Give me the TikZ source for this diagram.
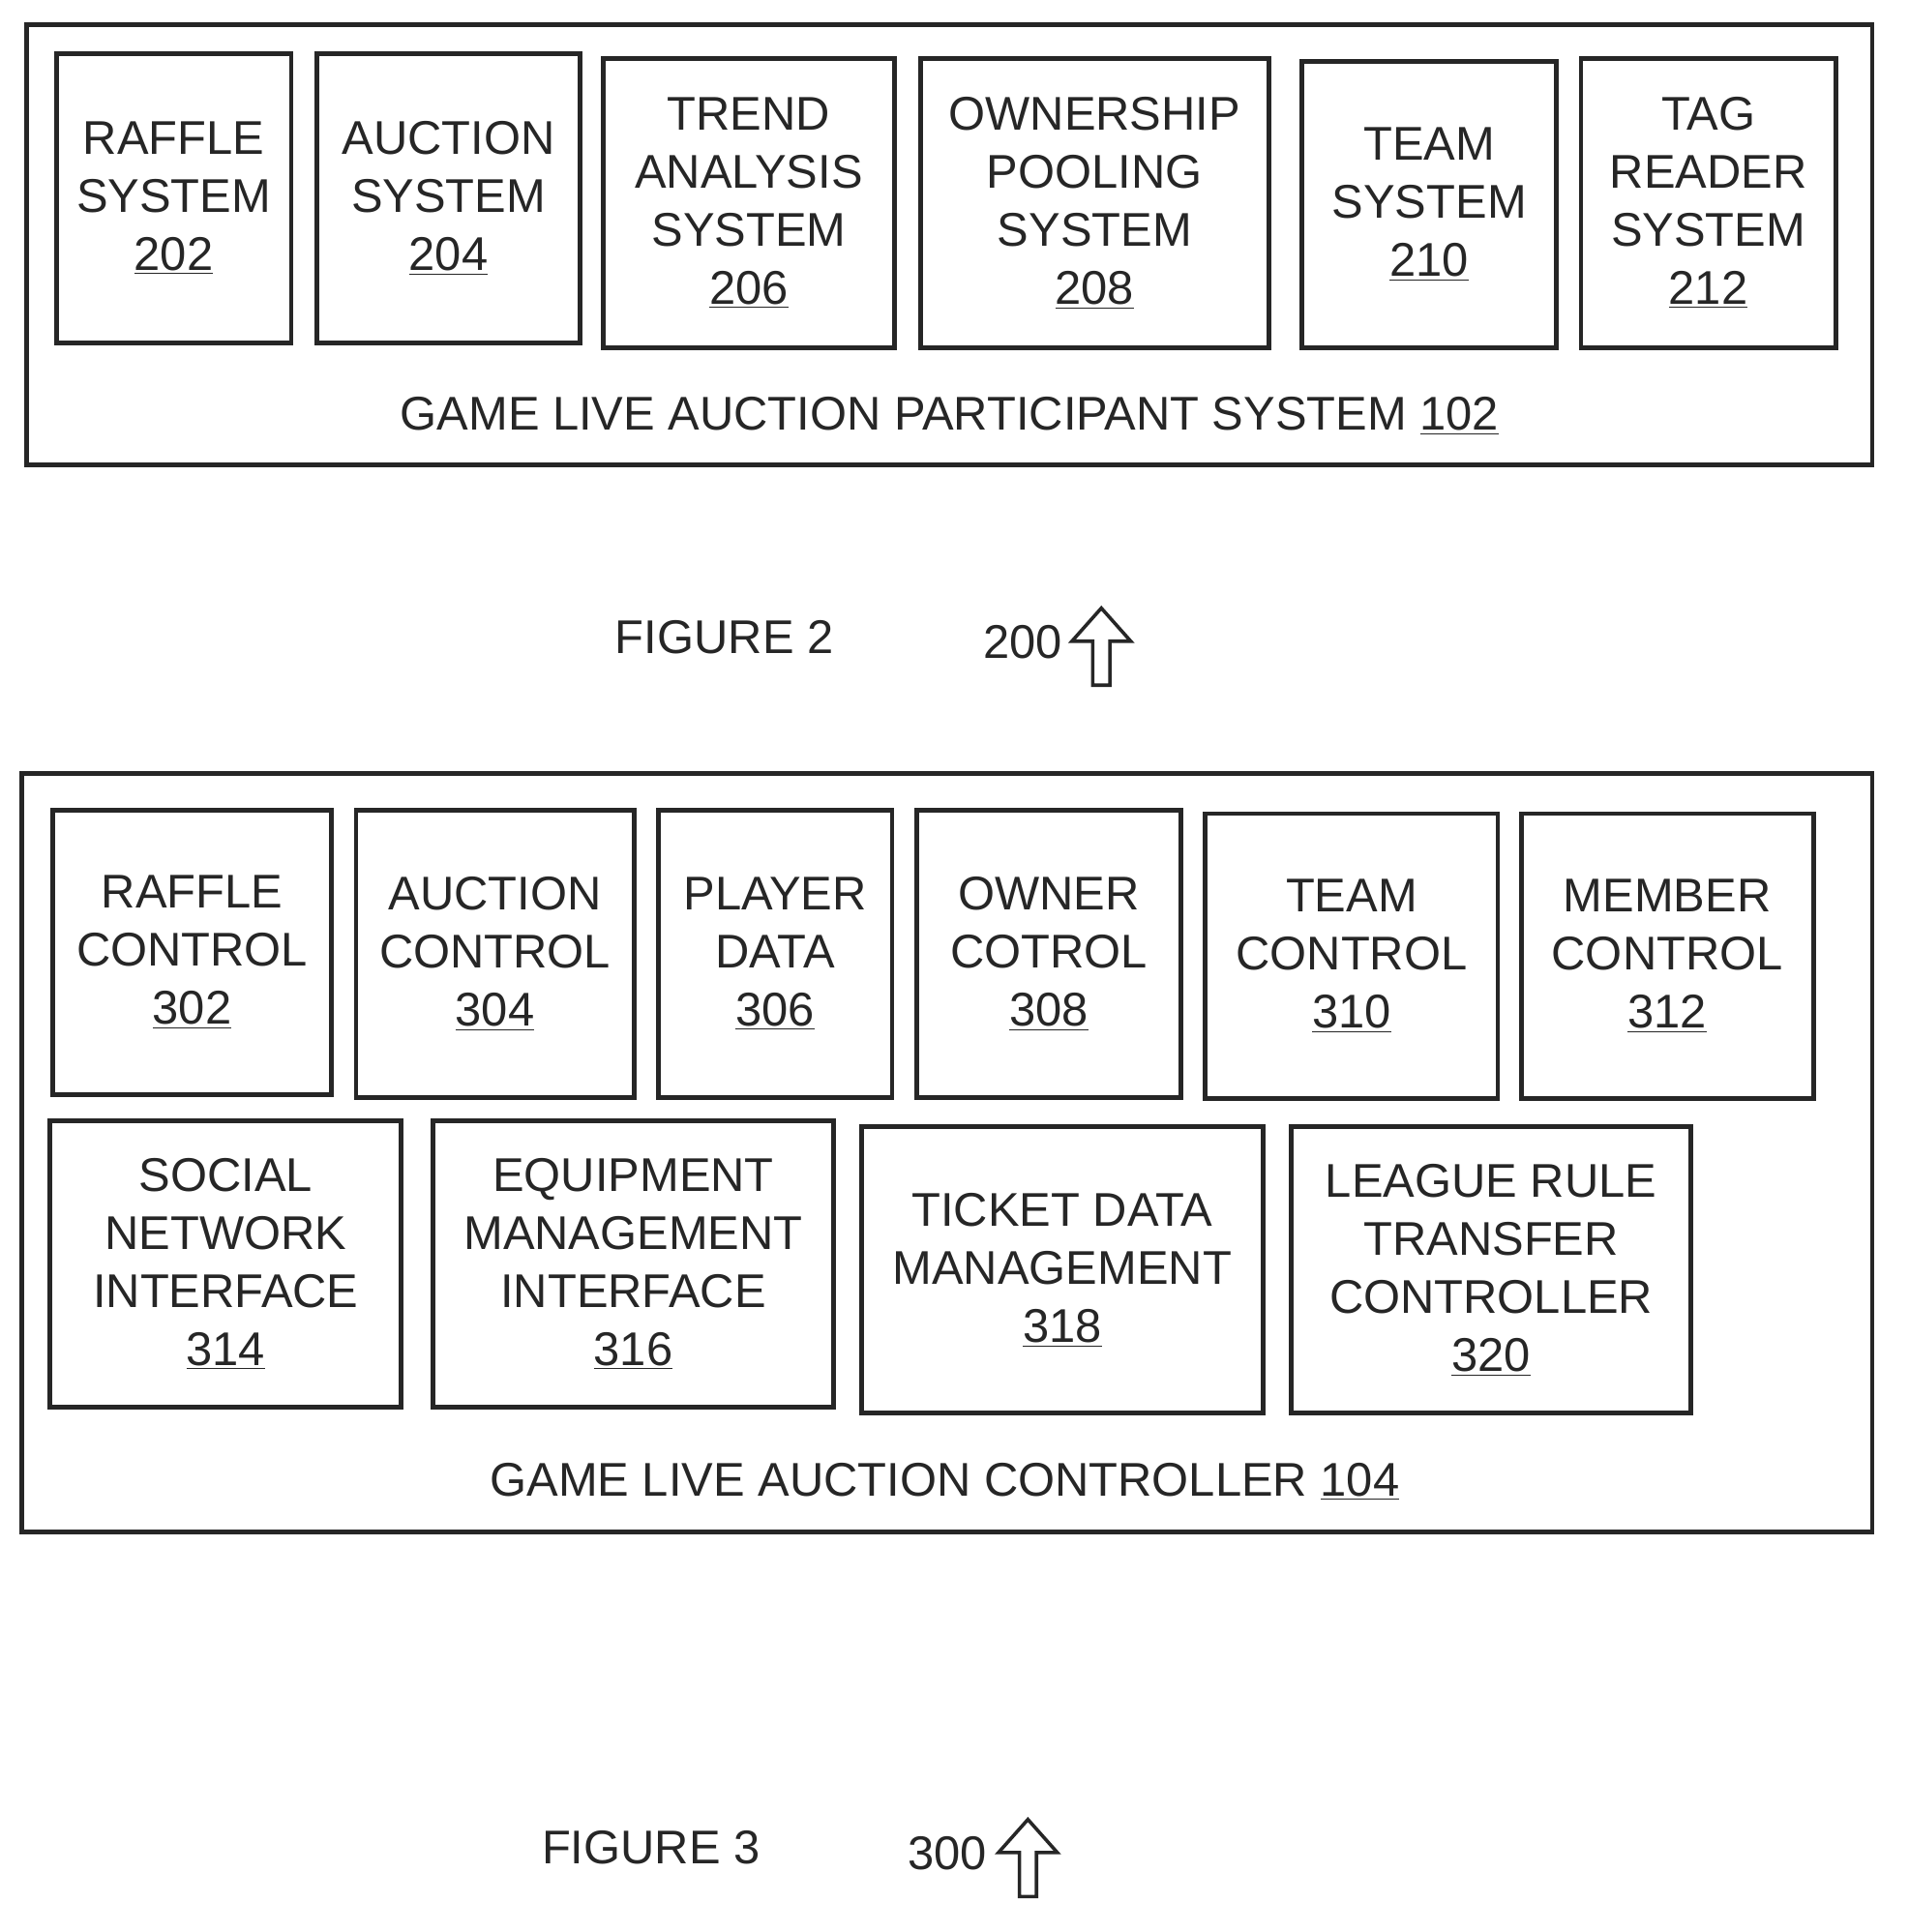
\documentclass[tikz,border=0pt]{standalone}
\usepackage{fontspec}
\setmainfont{Liberation Sans}
\begin{document}
\begin{tikzpicture}[x=0.02cm,y=-0.02cm,
 box/.style={draw=black!85,line width=2.2pt},
 txt/.style={font=\fontsize{22}{27}\selectfont,align=center,text=black!85},
 lbl/.style={font=\fontsize{22}{27}\selectfont,text=black!85}]
\useasboundingbox (0,0) rectangle (1560,1579);
\newcommand\bx[6]{\draw[box] (#1,#2) rectangle (#3,#4); \node[txt] (#5) at ({(#1+#3)/2},{(#2+#4)/2}) {#6};}
\draw[box] (22,20) rectangle (1530,380);
\bx{46}{44}{238}{280}{b202}{RAFFLE\\SYSTEM\\\underline{202}}
\bx{259}{44}{474}{280}{b204}{AUCTION\\SYSTEM\\\underline{204}}
\bx{493}{48}{731}{284}{b206}{TREND\\ANALYSIS\\SYSTEM\\\underline{206}}
\bx{752}{48}{1037}{284}{b208}{OWNERSHIP\\POOLING\\SYSTEM\\\underline{208}}
\bx{1064}{50}{1272}{284}{b210}{TEAM\\SYSTEM\\\underline{210}}
\bx{1292}{48}{1500}{284}{b212}{TAG\\READER\\SYSTEM\\\underline{212}}
\node[lbl] (l102) at (776,340) {GAME LIVE AUCTION PARTICIPANT SYSTEM \underline{102}};
\node[lbl] (f2) at (592,521) {FIGURE 2};
\node[lbl] (n200) at (836,525) {200};
\draw[line width=1.6pt,black!85] (893,560) -- (893,524) -- (876,524) -- (900,497) -- (924,524) -- (907,524) -- (907,560) -- cycle;
\draw[box] (18,632) rectangle (1530,1252);
\bx{43}{662}{271}{895}{b302}{RAFFLE\\CONTROL\\\underline{302}}
\bx{291}{662}{518}{897}{b304}{AUCTION\\CONTROL\\\underline{304}}
\bx{538}{662}{729}{897}{b306}{PLAYER\\DATA\\\underline{306}}
\bx{749}{662}{965}{897}{b308}{OWNER\\COTROL\\\underline{308}}
\bx{985}{665}{1224}{898}{b310}{TEAM\\CONTROL\\\underline{310}}
\bx{1243}{665}{1482}{898}{b312}{MEMBER\\CONTROL\\\underline{312}}
\bx{41}{916}{328}{1150}{b314}{SOCIAL\\NETWORK\\INTERFACE\\\underline{314}}
\bx{354}{916}{681}{1150}{b316}{EQUIPMENT\\MANAGEMENT\\INTERFACE\\\underline{316}}
\bx{704}{921}{1032}{1155}{b318}{TICKET DATA\\MANAGEMENT\\\underline{318}}
\bx{1055}{921}{1382}{1155}{b320}{LEAGUE RULE\\TRANSFER\\CONTROLLER\\\underline{320}}
\node[lbl] (l104) at (772,1211) {GAME LIVE AUCTION CONTROLLER \underline{104}};
\node[lbl] (f3) at (532,1510) {FIGURE 3};
\node[lbl] (n300) at (774,1515) {300};
\draw[line width=1.6pt,black!85] (833,1550) -- (833,1514) -- (816,1514) -- (840,1487) -- (864,1514) -- (847,1514) -- (847,1550) -- cycle;
\end{tikzpicture}
\end{document}
